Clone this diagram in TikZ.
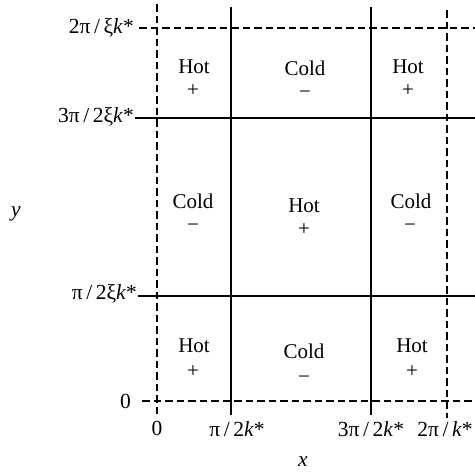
\documentclass[tikz,border=0pt]{standalone}
\usepackage{fontspec}
\setmainfont{Liberation Serif}
\newcommand\kst{\textit{k}*}
\begin{document}
\begin{tikzpicture}[x=1pt,y=-1pt,
  solidline/.style={line width=2.2pt},
  dashline/.style={line width=2.2pt, dash pattern=on 7.5pt off 4pt},
  word/.style={font=\fontsize{21}{25}\selectfont, anchor=base, inner sep=0pt},
  sgn/.style={font=\fontsize{21}{25}\selectfont, inner sep=0pt},
  lab/.style={font=\fontsize{21.5}{25}\selectfont, inner sep=0pt},
  ylab/.style={lab, anchor=east},
  xlab/.style={lab, anchor=base}]
\useasboundingbox (0,0) rectangle (475,472);
% vertical lines
\draw[dashline] (157,4) -- (157,415);
\draw[solidline] (231,7) -- (231,415);
\draw[solidline] (371,7) -- (371,415);
\draw[dashline] (447,10) -- (447,418);
% horizontal lines
\draw[dashline] (139,28) -- (475,28);
\draw[solidline] (135,118) -- (475,118);
\draw[solidline] (138,296) -- (475,296);
\draw[dashline] (142,401) -- (475,401);
% y labels
\node[ylab] (y4) at (134,28) {2π\,/\,ξ\kst};
\node[ylab] (y3) at (134,117) {3π\,/\,2ξ\kst};
\node[ylab] (y1) at (137,294) {π\,/\,2ξ\kst};
\node[ylab] (y0) at (131,401) {0};
% x labels
\node[xlab] (x0) at (157,435) {0};
\node[xlab] (x1) at (237,436) {π\,/\,2\kst};
\node[xlab] (x3) at (371,436) {3π\,/\,2\kst};
\node[xlab] (x4) at (445,436) {2π\,/\,\kst};
% axis names
\node[lab, font=\fontsize{21.5}{25}\selectfont\itshape] (ay) at (16,214) {y};
\node[lab, font=\fontsize{21.5}{25}\selectfont\itshape] (ax) at (303,462) {x};
% top row
\node[word] (w11) at (194,73) {Hot};   \node[sgn] (s11) at (193,91) {+};
\node[word] (w12) at (305,75) {Cold};  \node[sgn] (s12) at (305,95) {−};
\node[word] (w13) at (408,73) {Hot};   \node[sgn] (s13) at (408,91) {+};
% middle row
\node[word] (w21) at (193,208) {Cold}; \node[sgn] (s21) at (193,228) {−};
\node[word] (w22) at (304,212) {Hot};  \node[sgn] (s22) at (304,230) {+};
\node[word] (w23) at (411,208) {Cold}; \node[sgn] (s23) at (410,228) {−};
% bottom row
\node[word] (w31) at (194,352) {Hot};  \node[sgn] (s31) at (193,372) {+};
\node[word] (w32) at (304,358) {Cold}; \node[sgn] (s32) at (304,380) {−};
\node[word] (w33) at (412,352) {Hot};  \node[sgn] (s33) at (412,372) {+};
\end{tikzpicture}
\end{document}
